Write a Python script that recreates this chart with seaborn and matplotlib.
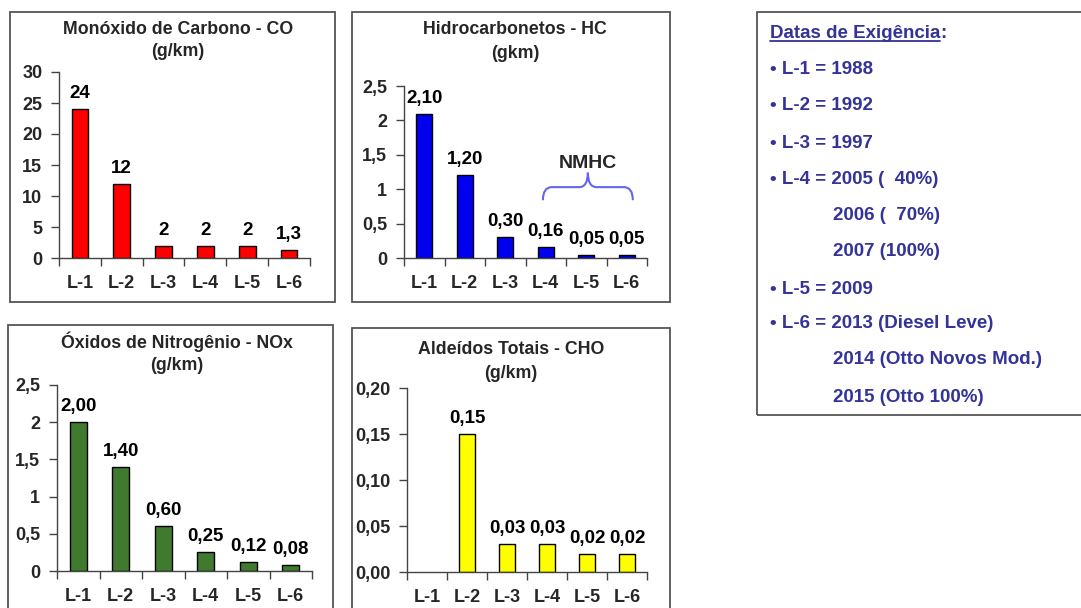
import matplotlib
matplotlib.use("Agg")
import matplotlib.pyplot as plt
import matplotlib.patches as mpatches
from matplotlib.path import Path
from matplotlib.ticker import FixedLocator, FuncFormatter
import numpy as np
import seaborn as sns

sns.set_theme(style="white")
plt.rcParams["font.family"] = ["Liberation Sans", "DejaVu Sans"]
plt.rcParams["font.weight"] = "bold"

# ---- data ----
categories = ["L-1", "L-2", "L-3", "L-4", "L-5", "L-6"]
co_values = [24, 12, 2, 2, 2, 1.3]
hc_values = [2.10, 1.20, 0.30, 0.16, 0.05, 0.05]
nox_values = [2.00, 1.40, 0.60, 0.25, 0.12, 0.08]
cho_values = [np.nan, 0.15, 0.03, 0.03, 0.02, 0.02]

co_ticks = [0, 5, 10, 15, 20, 25, 30]
hc_ticks = [0, 0.5, 1, 1.5, 2, 2.5]
nox_ticks = [0, 0.5, 1, 1.5, 2, 2.5]
cho_ticks = [0, 0.05, 0.10, 0.15, 0.20]

box_title = "Datas de Exigência"
box_lines = [
    ("• L-1 = 1988", False),
    ("• L-2 = 1992", False),
    ("• L-3 = 1997", False),
    ("• L-4 = 2005 (  40%)", False),
    ("2006 (  70%)", True),
    ("2007 (100%)", True),
    ("• L-5 = 2009", False),
    ("• L-6 = 2013 (Diesel Leve)", False),
    ("2014 (Otto Novos Mod.)", True),
    ("2015 (Otto 100%)", True),
]

W, H = 1081, 608
fig = plt.figure(figsize=(W / 100, H / 100), dpi=100)


def fx(px):
    return px / W


def fy(py):
    return 1 - py / H


def comma(v, fmt):
    return format(v, fmt).replace(".", ",")


def panel(rect, values, color, ticks, tick_fmt, label_fmt, title, unit, title_x, title_y):
    left, top, right, bottom = rect
    ax = fig.add_axes([fx(left), fy(bottom), fx(right) - fx(left), fy(top) - fy(bottom)])
    sns.barplot(x=categories, y=values, color=color, saturation=1, width=0.4,
                edgecolor="black", linewidth=1, ax=ax)
    ax.set_xlim(-0.5, len(categories) - 0.5)
    ax.set_ylim(ticks[0], ticks[-1])
    ax.yaxis.set_major_locator(FixedLocator(ticks))
    ax.yaxis.set_major_formatter(FuncFormatter(lambda v, p: comma(v, tick_fmt)))
    ax.xaxis.set_minor_locator(FixedLocator(np.arange(-0.5, len(categories), 1)))
    ax.tick_params(axis="x", which="major", length=0, pad=12, labelsize=13)
    ax.tick_params(axis="x", which="minor", length=6, width=1, color="#444444", direction="out")
    ax.tick_params(axis="y", length=6, width=1, color="#444444", direction="out", pad=6, labelsize=13)
    ax.tick_params(bottom=True, left=True, which="both")
    for lab in ax.get_xticklabels() + ax.get_yticklabels():
        lab.set_fontweight("bold")
    for s in ["top", "right"]:
        ax.spines[s].set_visible(False)
    for s in ["left", "bottom"]:
        ax.spines[s].set_color("#444444")
        ax.spines[s].set_linewidth(1)
    ax.set_xlabel("")
    ax.set_ylabel("")
    for i, v in enumerate(values):
        if np.isnan(v):
            continue
        ax.annotate(comma(v, label_fmt), (i, v), xytext=(0, 5), textcoords="offset points",
                    ha="center", va="bottom", fontsize=13.5, fontweight="bold", color="black")
    fig.text(fx(title_x), fy(title_y[0]), title, ha="center", va="center",
             fontsize=12.8, fontweight="bold")
    fig.text(fx(title_x), fy(title_y[1]), unit, ha="center", va="center",
             fontsize=12.8, fontweight="bold")
    return ax


def frame(x0, y0, x1, y1):
    fig.patches.append(mpatches.Rectangle((fx(x0), fy(y1)), fx(x1) - fx(x0), fy(y0) - fy(y1),
                                          transform=fig.transFigure, fill=False,
                                          edgecolor="#555555", linewidth=1.3, clip_on=False))


frame(10, 12, 335, 302)
frame(352, 12, 670, 302)
frame(8, 325, 333, 640)
frame(352, 328, 670, 640)
frame(757, 12, 1090, 415)

panel((59, 72, 310, 258), co_values, "#FF0000", co_ticks, "g", "g",
      "Monóxido de Carbono - CO", "(g/km)", 178, (29, 51))
ax_hc = panel((404, 86, 647, 258), hc_values, "#0000EE", hc_ticks, "g", ".2f",
              "Hidrocarbonetos - HC", "(gkm)", 515, (30, 53))
panel((57, 385, 312, 571), nox_values, "#3F7A2E", nox_ticks, "g", ".2f",
      "Óxidos de Nitrogênio - NOx", "(g/km)", 177, (342, 365))
panel((407, 388, 647, 572), cho_values, "#FFFF00", cho_ticks, ".2f", ".2f",
      "Aldeídos Totais - CHO", "(g/km)", 511, (350, 373))

# NMHC brace over L-4..L-6
bx0, bx1, bxm = 2.93, 5.15, 4.04
by_end, by_mid, by_tip = 0.84, 1.03, 1.24
d = 0.22
verts = [(bx0, by_end), (bx0, by_mid), (bx0 + d, by_mid),
         (bxm - d, by_mid), (bxm, by_mid), (bxm, by_tip),
         (bxm, by_mid), (bxm + d, by_mid),
         (bx1 - d, by_mid), (bx1, by_mid), (bx1, by_end)]
codes = [Path.MOVETO, Path.CURVE3, Path.CURVE3,
         Path.LINETO, Path.CURVE3, Path.CURVE3,
         Path.CURVE3, Path.CURVE3,
         Path.LINETO, Path.CURVE3, Path.CURVE3]
ax_hc.add_patch(mpatches.PathPatch(Path(verts, codes), fill=False, edgecolor="#6464F0",
                                   linewidth=1.5, clip_on=False))
ax_hc.text(bxm, 1.38, "NMHC", ha="center", va="center", fontsize=14, fontweight="bold")

# text box
text_color = "#333399"
t = fig.text(fx(770), fy(34), box_title, ha="left", va="center", fontsize=13.5,
             fontweight="bold", color=text_color)
fig.canvas.draw()
bb = t.get_window_extent()
fig.text(bb.x1 / W, fy(34), ":", ha="left", va="center", fontsize=13.5,
         fontweight="bold", color=text_color)
fig.lines.append(plt.Line2D([bb.x0 / W, bb.x1 / W], [bb.y0 / H + 0.002] * 2,
                            transform=fig.transFigure, color=text_color, linewidth=1.3))

line_y = [70, 106, 143, 180, 215, 251, 289, 324, 360, 397]
for (txt, indent), y in zip(box_lines, line_y):
    fig.text(fx(833 if indent else 770), fy(y), txt, ha="left", va="center",
             fontsize=13.5, fontweight="bold", color=text_color)

fig.savefig("out.png", dpi=100)
